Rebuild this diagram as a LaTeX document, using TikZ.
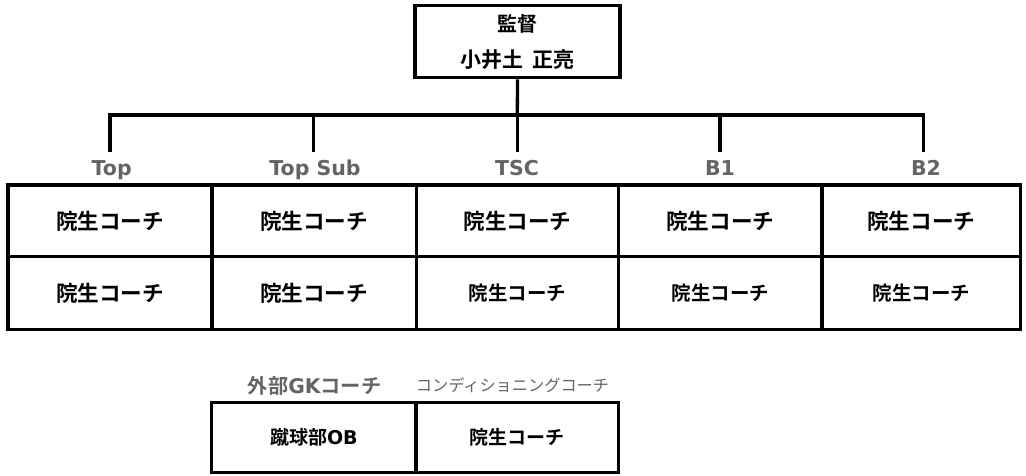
\documentclass[tikz,border=0pt]{standalone}
\usepackage{fontspec}
\newfontfamily\jpb{Noto Sans CJK JP Bold}
\newfontfamily\jpr{Noto Sans CJK JP}
\newfontfamily\latb{DejaVu Sans Bold}
\definecolor{lblgray}{RGB}{100,100,100}
\tikzset{
  ln/.style={line width=3.3pt},
  cell/.style={draw, line width=3.3pt, inner sep=0pt, anchor=center, font=\jpb\fontsize{21.6}{25}\selectfont},
  cellsm/.style={cell, font=\jpb\fontsize{19.5}{23}\selectfont},
  cellxs/.style={cell, font=\jpb\fontsize{19}{22}\selectfont},
  lbl/.style={text=lblgray, inner sep=0pt, anchor=base, font=\latb\fontsize{20.5}{24}\selectfont},
  bossbox/.style={draw, line width=3.3pt, align=center, inner sep=0pt, font=\jpb\fontsize{20}{36}\selectfont}
}
\begin{document}
\begin{tikzpicture}[x=1pt,y=-1pt]
\useasboundingbox (0,0) rectangle (1026,475);
% boss
\node[bossbox, minimum width=205pt, minimum height=72pt] (boss) at (517.5,41.7) {監督\\{\fontsize{21}{36}\selectfont 小井土\hspace{9pt}正亮}};
% connectors
\coordinate (hub) at (517.3,115);
\coordinate (t1) at (110,152);
\coordinate (t2) at (313.3,152);
\coordinate (t3) at (517.3,152);
\coordinate (t4) at (720,152);
\coordinate (t5) at (923.3,152);
\draw[ln] (boss.south) -- (hub);
\draw[ln] (t1) |- (hub) -| (t5);
\draw[ln] (t2 |- hub) -- (t2);
\draw[ln] (t3 |- hub) -- (t3);
\draw[ln] (t4 |- hub) -- (t4);
% labels
\node[lbl] (l1) at (111.7,175) {Top};
\node[lbl] (l2) at (315,175) {Top Sub};
\node[lbl] (l3) at (517,175) {TSC};
\node[lbl] (l4) at (720,175) {B1};
\node[lbl] (l5) at (926,175) {B2};
% row 1
\node[cell, minimum width=204pt, minimum height=71.7pt] (a1) at (110,220.8) {院生コーチ};
\node[cell, minimum width=204.3pt, minimum height=71.7pt] (a2) at (314.15,220.8) {院生コーチ};
\node[cell, minimum width=202.4pt, minimum height=71.7pt] (a3) at (517.5,220.8) {院生コーチ};
\node[cell, minimum width=203.3pt, minimum height=71.7pt] (a4) at (720.35,220.8) {院生コーチ};
\node[cell, minimum width=198.5pt, minimum height=71.7pt] (a5) at (921.25,220.8) {院生コーチ};
% row 2
\node[cell, minimum width=204pt, minimum height=72.6pt] (b1) at (110,293) {院生コーチ};
\node[cell, minimum width=204.3pt, minimum height=72.6pt] (b2) at (314.15,293) {院生コーチ};
\node[cellsm, minimum width=202.4pt, minimum height=72.6pt] (b3) at (517.5,293) {院生コーチ};
\node[cellsm, minimum width=203.3pt, minimum height=72.6pt] (b4) at (720.35,293) {院生コーチ};
\node[cellsm, minimum width=198.5pt, minimum height=72.6pt] (b5) at (921.25,293) {院生コーチ};
% bottom
\node[lbl, anchor=center, font=\fontsize{20.2}{24}\selectfont] (g1) at (314.6,386) {\jpb 外部\latb GK\jpb コーチ};
\node[lbl, anchor=center, font=\jpr\fontsize{16.2}{20}\selectfont] (g2) at (512.5,385) {コンディショニングコーチ};
\node[cellxs, minimum width=204.3pt, minimum height=70pt] (c1) at (313.85,437.7) {蹴球部{\latb OB}};
\node[cellxs, minimum width=202.3pt, minimum height=70pt] (c2) at (517.15,437.7) {院生コーチ};
\end{tikzpicture}
\end{document}
